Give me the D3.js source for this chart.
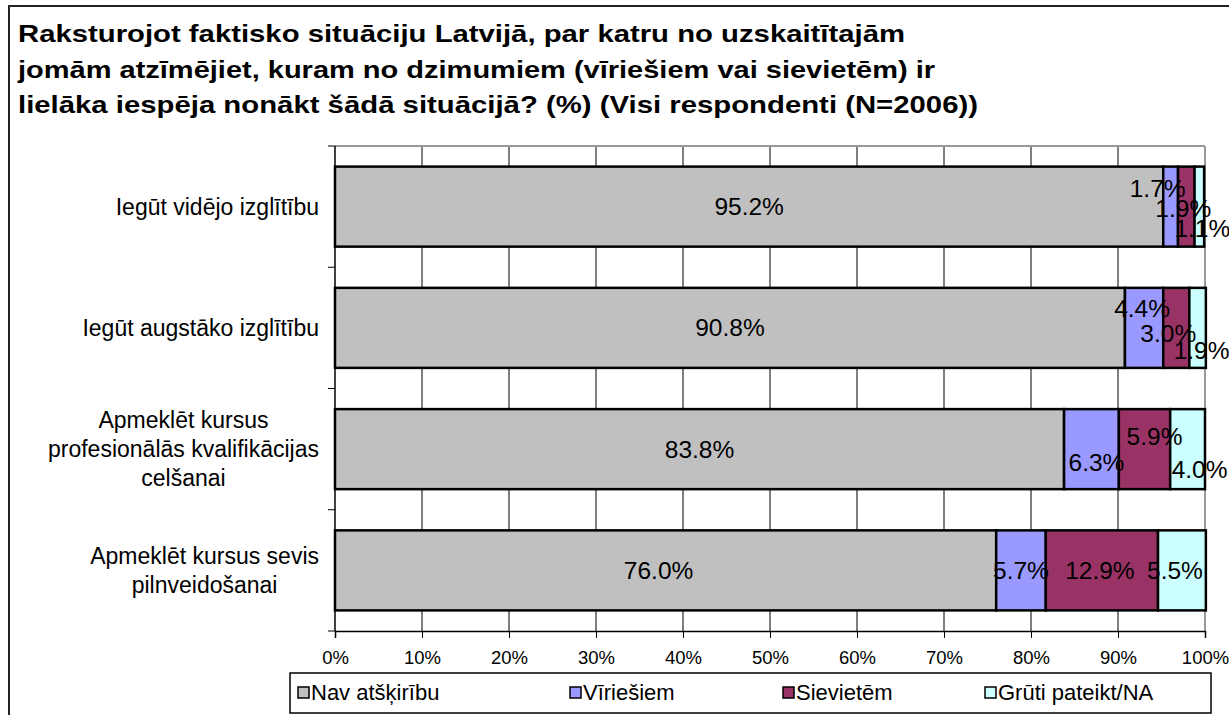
<!DOCTYPE html>
<html>
<head>
<meta charset="utf-8">
<script src="https://d3js.org/d3.v7.min.js"></script>
<style>
body { margin: 0; background: white; }
text { font-family: Arial, "Liberation Sans", sans-serif; }
</style>
</head>
<body>
<svg id="chart" width="1229" height="715"></svg>
<script>
// data
const categories = [
  ["Iegūt vidējo izglītību"],
  ["Iegūt augstāko izglītību"],
  ["Apmeklēt kursus", "profesionālās kvalifikācijas", "celšanai"],
  ["Apmeklēt kursus sevis", "pilnveidošanai"]
];
const seriesNames = ["Nav atšķirību", "Vīriešiem", "Sievietēm", "Grūti pateikt/NA"];
const navAtskiribu = [95.2, 90.8, 83.8, 76.0];
const viriesiem = [1.7, 4.4, 6.3, 5.7];
const sievietem = [1.9, 3.0, 5.9, 12.9];
const grutiPateikt = [1.1, 1.9, 4.0, 5.5];
const xTicks = [0, 10, 20, 30, 40, 50, 60, 70, 80, 90, 100];
const titleLines = [
  "Raksturojot faktisko situāciju Latvijā, par katru no uzskaitītajām",
  "jomām atzīmējiet, kuram no dzimumiem (vīriešiem vai sievietēm) ir",
  "lielāka iespēja nonākt šādā situācijā? (%) (Visi respondenti (N=2006))"
];

const colors = ["#C0C0C0", "#9999FF", "#993366", "#CCFFFF"];
// label nudges [dx, dy] for crowded small segments, per category then series
const nudge = [
  [[0,0],[-13,-18],[-3,2],[3,22]],
  [[0,0],[-2,-19],[-8,6],[4,23]],
  [[0,0],[5,13],[10,-13],[12,20]],
  [[-7,0],[0,0],[-2,0],[-7,0]]
];
const titleWidths = [887, 917, 960];

const svg = d3.select("#chart");

// outer frame
svg.append("path")
  .attr("d", "M9,730 V6 H1240")
  .attr("fill", "none").attr("stroke", "#222").attr("stroke-width", 2);

// title
svg.append("g").selectAll("text").data(titleLines).join("text")
  .attr("x", 18).attr("y", (d, i) => 42 + i * 35.5)
  .attr("textLength", (d, i) => titleWidths[i])
  .attr("lengthAdjust", "spacingAndGlyphs")
  .style("font-size", "24.5px").style("font-weight", "bold")
  .text(d => d);

const pLeft = 335, pRight = 1205, pTop = 146, pBottom = 631;
const x = d3.scaleLinear().domain([0, 100]).range([pLeft, pRight]);
const y = d3.scaleBand().domain(d3.range(categories.length)).range([pTop, pBottom]).paddingInner(0.34).paddingOuter(0.17);

// grid
svg.append("g").selectAll("line").data(xTicks.slice(1, -1)).join("line")
  .attr("x1", d => x(d)).attr("x2", d => x(d))
  .attr("y1", pTop).attr("y2", pBottom)
  .attr("stroke", "#000").attr("stroke-width", 1);
svg.append("line").attr("x1", pLeft).attr("x2", pRight).attr("y1", pTop).attr("y2", pTop)
  .attr("stroke", "#999").attr("stroke-width", 2);
svg.append("line").attr("x1", pRight).attr("x2", pRight).attr("y1", pTop).attr("y2", pBottom)
  .attr("stroke", "#999").attr("stroke-width", 2);

// stacked bars
const rows = categories.map((c, i) => [navAtskiribu[i], viriesiem[i], sievietem[i], grutiPateikt[i]]);
const gBars = svg.append("g");
rows.forEach((vals, ci) => {
  let acc = 0;
  vals.forEach((v, si) => {
    const x0 = acc, x1 = acc + v;
    acc = x1;
    gBars.append("rect")
      .attr("x", x(x0)).attr("y", y(ci))
      .attr("width", x(x1) - x(x0)).attr("height", y.bandwidth())
      .attr("fill", colors[si]).attr("stroke", "#000").attr("stroke-width", 2.5);
  });
});
rows.forEach((vals, ci) => {
  let acc = 0;
  vals.forEach((v, si) => {
    const mid = acc + v / 2;
    acc += v;
    const n = nudge[ci][si];
    gBars.append("text")
      .attr("x", x(mid) + n[0]).attr("y", y(ci) + y.bandwidth() / 2 + n[1])
      .attr("text-anchor", "middle").attr("dy", "0.35em")
      .style("font-size", "24.5px")
      .text(v.toFixed(1) + "%");
  });
});

// x axis
const xAxis = svg.append("g").attr("transform", `translate(0,${pBottom})`)
  .call(d3.axisBottom(x).tickValues(xTicks).tickSize(7).tickFormat(d => d + "%"));
xAxis.select(".domain").attr("stroke", "#000").attr("stroke-width", 1.5);
xAxis.selectAll(".tick line").attr("stroke", "#000");
xAxis.selectAll(".tick text").style("font-size", "18.5px").style("font-family", "Arial, 'Liberation Sans', sans-serif").attr("fill", "#000").attr("dy", "1.25em");

// y axis with ticks at category boundaries
svg.append("line").attr("x1", pLeft).attr("x2", pLeft).attr("y1", pTop).attr("y2", pBottom)
  .attr("stroke", "#000").attr("stroke-width", 1.5);
const step = (pBottom - pTop) / categories.length;
svg.append("g").selectAll("line").data(d3.range(categories.length + 1)).join("line")
  .attr("x1", pLeft - 7).attr("x2", pLeft)
  .attr("y1", d => pTop + d * step).attr("y2", d => pTop + d * step)
  .attr("stroke", "#000");

// category labels
categories.forEach((lines, ci) => {
  const cy = y(ci) + y.bandwidth() / 2;
  const lh = 29;
  const g = svg.append("g");
  const t = g.selectAll("text").data(lines).join("text")
    .attr("y", (d, i) => cy + (i - (lines.length - 1) / 2) * lh)
    .attr("dy", "0.35em").attr("text-anchor", "middle")
    .style("font-size", "23px").text(d => d);
  let w = 0;
  t.each(function() { w = Math.max(w, this.getComputedTextLength()); });
  t.attr("x", 319 - w / 2);
});

// legend
const lg = svg.append("g");
lg.append("rect").attr("x", 290).attr("y", 673).attr("width", 921).attr("height", 40)
  .attr("fill", "white").attr("stroke", "#000").attr("stroke-width", 1.5);
const legX = [298, 570, 783, 985];
seriesNames.forEach((s, i) => {
  lg.append("rect").attr("x", legX[i]).attr("y", 687).attr("width", 11).attr("height", 11)
    .attr("fill", colors[i]).attr("stroke", "#000").attr("stroke-width", 1.5);
  lg.append("text").attr("x", legX[i] + 13).attr("y", 700)
    .style("font-size", "22px").text(s);
});
</script>
</body>
</html>
